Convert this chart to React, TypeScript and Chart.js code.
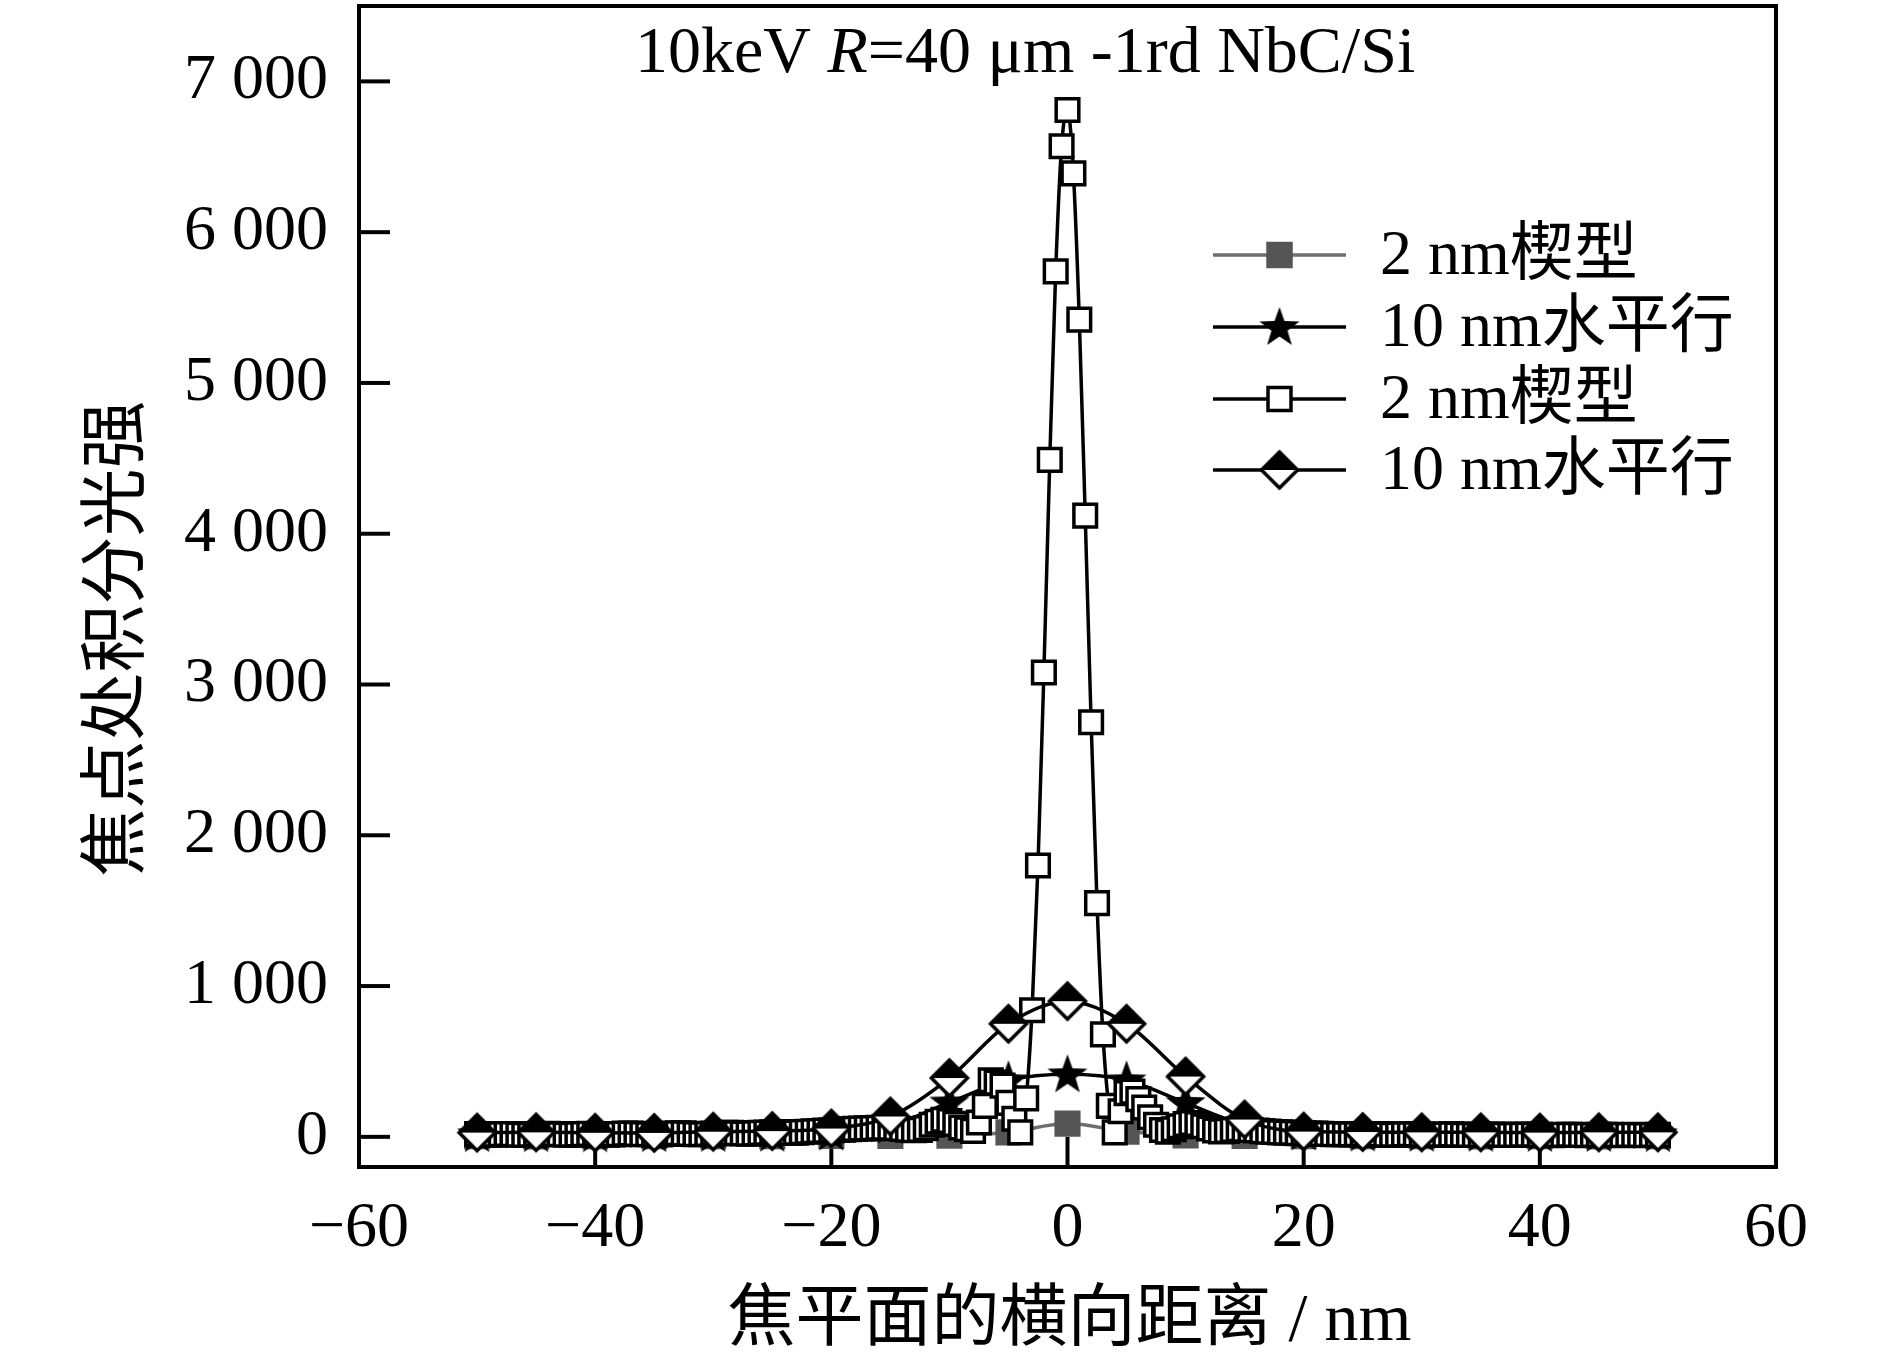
import React, { useEffect, useRef } from "react";
import { Chart, registerables } from "chart.js";

Chart.register(...registerables);

// ---------- data ----------
const xFine = [
  -50, -49.5, -49, -48.5, -48, -47.5, -47, -46.5, -46, -45.5,
  -45, -44.5, -44, -43.5, -43, -42.5, -42, -41.5, -41, -40.5,
  -40, -39.5, -39, -38.5, -38, -37.5, -37, -36.5, -36, -35.5,
  -35, -34.5, -34, -33.5, -33, -32.5, -32, -31.5, -31, -30.5,
  -30, -29.5, -29, -28.5, -28, -27.5, -27, -26.5, -26, -25.5,
  -25, -24.5, -24, -23.5, -23, -22.5, -22, -21.5, -21, -20.5,
  -20, -19.5, -19, -18.5, -18, -17.5, -17, -16.5, -16, -15.5,
  -15, -14.5, -14, -13.5, -13, -12.5, -12, -11.5, -11, -10.5,
  -10, -9.5, -9, -8.5, -8, -7.5, -7, -6.5, -6, -5.5,
  -5, -4.5, -4, -3.5, -3, -2.5, -2, -1.5, -1, -0.5,
  0, 0.5, 1, 1.5, 2, 2.5, 3, 3.5, 4, 4.5,
  5, 5.5, 6, 6.5, 7, 7.5, 8, 8.5, 9, 9.5,
  10, 10.5, 11, 11.5, 12, 12.5, 13, 13.5, 14, 14.5,
  15, 15.5, 16, 16.5, 17, 17.5, 18, 18.5, 19, 19.5,
  20, 20.5, 21, 21.5, 22, 22.5, 23, 23.5, 24, 24.5,
  25, 25.5, 26, 26.5, 27, 27.5, 28, 28.5, 29, 29.5,
  30, 30.5, 31, 31.5, 32, 32.5, 33, 33.5, 34, 34.5,
  35, 35.5, 36, 36.5, 37, 37.5, 38, 38.5, 39, 39.5,
  40, 40.5, 41, 41.5, 42, 42.5, 43, 43.5, 44, 44.5,
  45, 45.5, 46, 46.5, 47, 47.5, 48, 48.5, 49, 49.5,
  50,
];

// 2 nm wedge (open squares)
const openSquareValues = [
  18, 16, 14, 15, 17, 19, 18, 15, 13, 14,
  16, 18, 20, 19, 17, 15, 14, 16, 18, 20,
  19, 17, 15, 16, 18, 21, 22, 20, 18, 17,
  15, 16, 19, 22, 24, 23, 20, 18, 17, 19,
  22, 25, 27, 26, 24, 22, 21, 23, 26, 28,
  30, 31, 29, 27, 28, 31, 34, 37, 39, 41,
  43, 46, 48, 50, 53, 55, 56, 58, 60, 61,
  60, 57, 52, 47, 44, 46, 58, 80, 100, 113,
  105, 86, 62, 50, 40, 95, 205, 375, 360, 340,
  225, 120, 30, 255, 840, 1800, 3080, 4490, 5740, 6570,
  6810, 6390, 5420, 4120, 2750, 1550, 680, 205, 30, 170,
  290, 300, 250, 195, 130, 80, 45, 35, 50, 70,
  85, 92, 85, 70, 55, 42, 36, 40, 46, 50,
  48, 45, 42, 38, 35, 32, 30, 28, 27, 25,
  24, 22, 21, 20, 19, 18, 18, 17, 16, 17,
  18, 19, 17, 16, 15, 14, 15, 16, 17, 16,
  15, 14, 13, 14, 15, 16, 15, 14, 13, 12,
  13, 14, 15, 14, 13, 12, 13, 14, 15, 14,
  13, 12, 11, 12, 13, 14, 13, 12, 11, 12,
  13, 14, 13, 12, 11, 12, 13, 12, 11, 12,
  13,
];

const xCoarse = [-50, -45, -40, -35, -30, -25, -20, -15, -10, -5, 0, 5, 10, 15, 20, 25, 30, 35, 40, 45, 50];
// 2 nm wedge (filled grey squares)
const graySquareValues = [4, 3, 4, 5, 4, 5, 6, 6, 8, 30, 88, 35, 10, 6, 5, 4, 4, 3, 4, 3, 4];
// 10 nm horizontal (stars)
const starValues = [18, 18, 17, 18, 19, 20, 28, 75, 228, 375, 415, 375, 225, 80, 30, 22, 20, 20, 19, 19, 18];
// 10 nm horizontal (diamonds)
const diamondValues = [28, 30, 27, 26, 34, 38, 55, 135, 390, 750, 900, 750, 400, 115, 35, 32, 30, 30, 28, 30, 30];

const seriesLabels = ["2 nm楔型", "10 nm水平行", "2 nm楔型", "10 nm水平行"];

const xTickValues = [-60, -40, -20, 0, 20, 40, 60];
const xTickLabels = ["\u221260", "\u221240", "\u221220", "0", "20", "40", "60"];
const yTickValues = [0, 1000, 2000, 3000, 4000, 5000, 6000, 7000];
const yTickLabels = ["0", "1 000", "2 000", "3 000", "4 000", "5 000", "6 000", "7 000"];

const xTitle = "焦平面的横向距离 / nm";
const yTitle = "焦点处积分光强";
const titleParts: [string, boolean][] = [
  ["10keV ", false],
  ["R", true],
  ["=40 \u03bcm -1rd NbC/Si", false],
];

// ---------- styles ----------
const SERIF = '"Liberation Serif", "Times New Roman", "Noto Sans CJK SC", serif';
const GRAY_MARK = "#555555";
const GRAY_LINE = "#6e6e6e";

function makeStar(): HTMLCanvasElement {
  const c = document.createElement("canvas");
  c.width = 46;
  c.height = 46;
  const g = c.getContext("2d")!;
  const cx = 23, cy = 24, R = 21, r = 8.5;
  g.beginPath();
  for (let i = 0; i < 10; i++) {
    const ang = -Math.PI / 2 + (i * Math.PI) / 5;
    const rad = i % 2 === 0 ? R : r;
    const px = cx + rad * Math.cos(ang);
    const py = cy + rad * Math.sin(ang);
    if (i === 0) g.moveTo(px, py);
    else g.lineTo(px, py);
  }
  g.closePath();
  g.fillStyle = "#000";
  g.fill();
  return c;
}

function makeDiamond(): HTMLCanvasElement {
  const c = document.createElement("canvas");
  c.width = 44;
  c.height = 44;
  const g = c.getContext("2d")!;
  const m = 22, h = 18;
  g.beginPath();
  g.moveTo(m, m - h);
  g.lineTo(m + h, m);
  g.lineTo(m, m + h);
  g.lineTo(m - h, m);
  g.closePath();
  g.fillStyle = "#fff";
  g.fill();
  g.beginPath();
  g.moveTo(m - h, m);
  g.lineTo(m, m - h);
  g.lineTo(m + h, m);
  g.closePath();
  g.fillStyle = "#000";
  g.fill();
  g.beginPath();
  g.moveTo(m, m - h);
  g.lineTo(m + h, m);
  g.lineTo(m, m + h);
  g.lineTo(m - h, m);
  g.closePath();
  g.lineWidth = 3.5;
  g.strokeStyle = "#000";
  g.lineJoin = "miter";
  g.stroke();
  return c;
}

export default function App() {
  const ref = useRef<HTMLCanvasElement>(null);

  useEffect(() => {
    const canvas = ref.current!;
    const starImg = makeStar();
    const diamondImg = makeDiamond();

    const decor = {
      id: "decor",
      beforeDatasetsDraw(chart: any) {
        const { ctx, chartArea: a, scales } = chart;
        ctx.save();
        ctx.strokeStyle = "#000";
        ctx.lineWidth = 4;
        ctx.lineCap = "butt";
        for (const v of xTickValues) {
          if (v <= scales.x.min || v >= scales.x.max) continue;
          const px = scales.x.getPixelForValue(v);
          ctx.beginPath();
          ctx.moveTo(px, a.bottom);
          ctx.lineTo(px, a.bottom - 30);
          ctx.stroke();
        }
        for (const v of yTickValues) {
          const py = scales.y.getPixelForValue(v);
          ctx.beginPath();
          ctx.moveTo(a.left, py);
          ctx.lineTo(a.left + 31, py);
          ctx.stroke();
        }
        ctx.restore();
      },
      afterDraw(chart: any) {
        const { ctx, chartArea: a } = chart;
        ctx.save();
        // frame
        ctx.strokeStyle = "#000";
        ctx.lineWidth = 4;
        ctx.strokeRect(a.left, a.top, a.right - a.left, a.bottom - a.top);

        // inner title
        ctx.fillStyle = "#000";
        ctx.textBaseline = "alphabetic";
        ctx.textAlign = "left";
        let tx = a.left + 276;
        const ty = a.top + 66;
        for (const [s, it] of titleParts) {
          ctx.font = `${it ? "italic " : ""}66px ${SERIF}`;
          ctx.fillText(s, tx, ty);
          tx += ctx.measureText(s).width;
        }

        // axis titles
        ctx.font = `68px ${SERIF}`;
        ctx.textAlign = "center";
        ctx.textBaseline = "middle";
        ctx.fillText(xTitle, (a.left + a.right) / 2 + 2, a.bottom + 155);
        ctx.save();
        ctx.translate(120, (a.top + a.bottom) / 2 + 52);
        ctx.rotate(-Math.PI / 2);
        ctx.fillText(yTitle, 0, 0);
        ctx.restore();

        // legend
        const rowY = [249, 321, 393, 464].map((d) => a.top + d);
        const lx0 = a.left + 854;
        const lx1 = a.left + 987;
        const mx = (lx0 + lx1) / 2;
        ctx.textAlign = "left";
        ctx.textBaseline = "middle";
        rowY.forEach((y, i) => {
          ctx.lineWidth = 3.5;
          ctx.strokeStyle = i === 0 ? GRAY_LINE : "#000";
          ctx.beginPath();
          ctx.moveTo(lx0, y);
          ctx.lineTo(lx1, y);
          ctx.stroke();
          if (i === 0 || i === 2) {
            ctx.lineWidth = 3.5;
            ctx.fillStyle = i === 0 ? GRAY_MARK : "#fff";
            ctx.strokeStyle = i === 0 ? GRAY_MARK : "#000";
            ctx.fillRect(mx - 11.5, y - 11.5, 23, 23);
            ctx.strokeRect(mx - 11.5, y - 11.5, 23, 23);
          } else {
            const img = i === 1 ? starImg : diamondImg;
            ctx.drawImage(img, mx - img.width / 2, y - img.height / 2);
          }
          ctx.fillStyle = "#000";
          ctx.font = `64px ${SERIF}`;
          ctx.fillText(seriesLabels[i], a.left + 1021, y + 2);
        });
        ctx.restore();
      },
    };

    const lineCommon = {
      borderWidth: 3.5,
      tension: 0.4,
      cubicInterpolationMode: "monotone" as const,
      pointRadius: 16,
      pointHoverRadius: 16,
      pointBorderWidth: 3.5,
      fill: false,
    };

    const chart = new Chart(canvas, {
      type: "line",
      data: {
        datasets: [
          {
            ...lineCommon,
            label: seriesLabels[0],
            data: xCoarse.map((x, i) => ({ x, y: graySquareValues[i] })),
            borderColor: GRAY_LINE,
            pointStyle: "rect",
            pointBackgroundColor: GRAY_MARK,
            pointBorderColor: GRAY_MARK,
            order: 4,
          },
          {
            ...lineCommon,
            label: seriesLabels[1],
            data: xCoarse.map((x, i) => ({ x, y: starValues[i] })),
            borderColor: "#000",
            pointStyle: starImg,
            order: 3,
          },
          {
            ...lineCommon,
            label: seriesLabels[2],
            data: xFine.map((x, i) => ({ x, y: openSquareValues[i] })),
            borderColor: "#000",
            pointStyle: "rect",
            pointBackgroundColor: "#fff",
            pointBorderColor: "#000",
            order: 2,
          },
          {
            ...lineCommon,
            label: seriesLabels[3],
            data: xCoarse.map((x, i) => ({ x, y: diamondValues[i] })),
            borderColor: "#000",
            pointStyle: diamondImg,
            order: 1,
          },
        ] as any,
      },
      options: {
        animation: false,
        responsive: false,
        devicePixelRatio: 1,
        events: [],
        layout: { autoPadding: false, padding: { left: 0, right: 114, top: 6, bottom: 0 } },
        plugins: {
          legend: { display: false },
          tooltip: { enabled: false },
          title: { display: false },
        },
        scales: {
          x: {
            type: "linear",
            min: -60,
            max: 60,
            grid: { display: false },
            border: { display: false },
            afterBuildTicks: (s: any) => {
              s.ticks = xTickValues.map((v) => ({ value: v }));
            },
            afterFit: (s: any) => {
              s.height = 203;
              s.paddingLeft = 0;
              s.paddingRight = 0;
              s.paddingTop = 0;
              s.paddingBottom = 0;
            },
            ticks: {
              color: "#000",
              font: { family: SERIF, size: 64, lineHeight: 1.2 },
              padding: 16,
              maxRotation: 0,
              autoSkip: false,
              callback: (_v: any, i: number) => xTickLabels[i],
            },
          },
          y: {
            type: "linear",
            min: -200,
            max: 7500,
            grid: { display: false },
            border: { display: false },
            afterBuildTicks: (s: any) => {
              s.ticks = yTickValues.map((v) => ({ value: v }));
            },
            afterFit: (s: any) => {
              s.width = 359;
              s.paddingLeft = 0;
              s.paddingRight = 0;
              s.paddingTop = 0;
              s.paddingBottom = 0;
            },
            ticks: {
              color: "#000",
              font: { family: SERIF, size: 64, lineHeight: 1.2 },
              padding: 23,
              autoSkip: false,
              callback: (_v: any, i: number) => yTickLabels[i],
            },
          },
        },
      } as any,
      plugins: [decor],
    });

    return () => chart.destroy();
  }, []);

  return (
    <div style={{ position: "absolute", left: 0, top: 0, width: 1890, height: 1370, background: "#fff" }}>
      <canvas ref={ref} width={1890} height={1370} style={{ display: "block", width: 1890, height: 1370 }} />
    </div>
  );
}
